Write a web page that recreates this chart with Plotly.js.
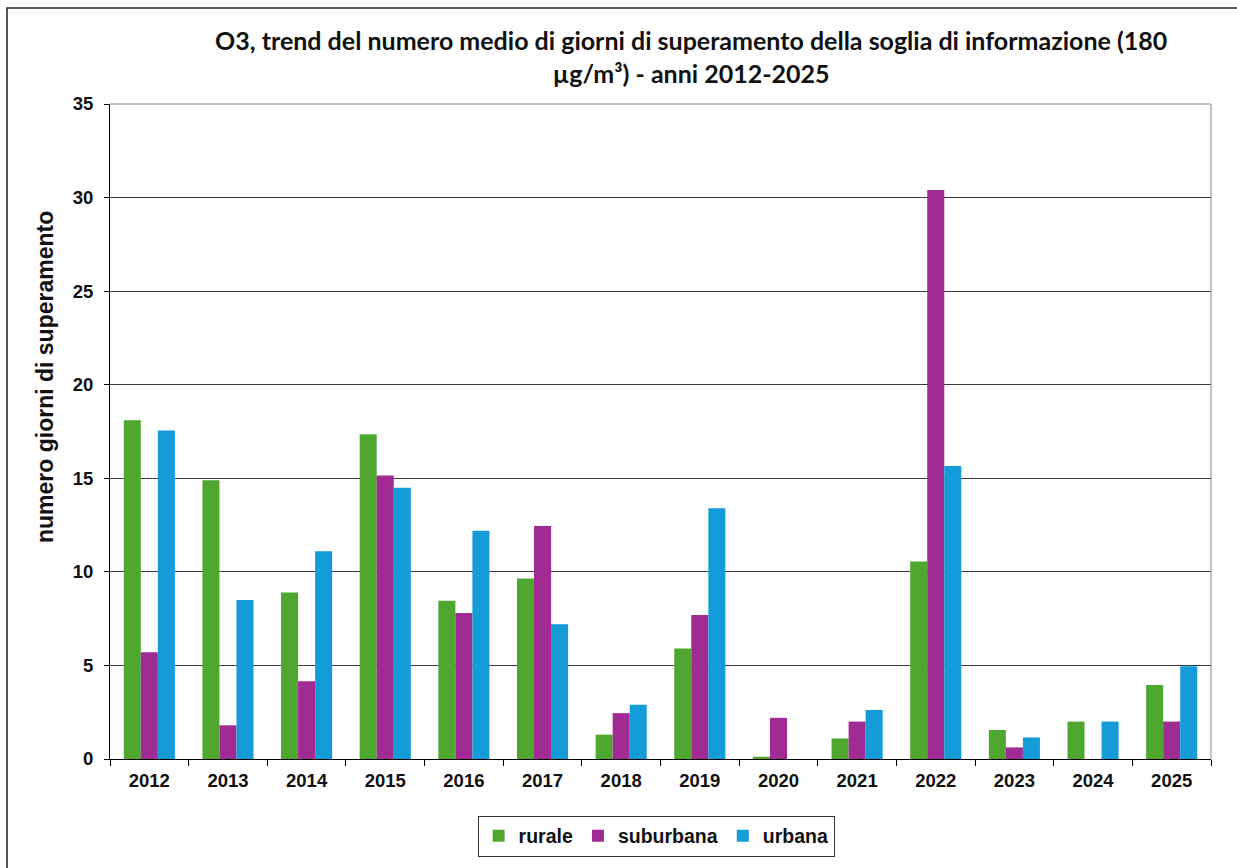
<!DOCTYPE html>
<html>
<head>
<meta charset="utf-8">
<script src="https://cdn.plot.ly/plotly-3.0.1.min.js"></script>
<style>
html,body{margin:0;padding:0;background:#fff;}
#chart{width:1237px;height:868px;}
</style>
</head>
<body>
<div id="chart"></div>
<script>
const years = ["2012","2013","2014","2015","2016","2017","2018","2019","2020","2021","2022","2023","2024","2025"];
const rurale    = [18.1, 14.9, 8.9, 17.35, 8.45, 9.65, 1.3, 5.9, 0.12, 1.1, 10.55, 1.55, 2.0, 3.95];
const suburbana = [5.7, 1.8, 4.15, 15.15, 7.8, 12.45, 2.45, 7.7, 2.2, 2.0, 30.4, 0.62, 0, 2.0];
const urbana    = [17.55, 8.5, 11.1, 14.5, 12.2, 7.2, 2.9, 13.4, 0, 2.62, 15.65, 1.15, 2.0, 4.95];

const titleText = "O3, trend del numero medio di giorni di superamento della soglia di informazione (180<br>µg/m³) - anni 2012-2025";
const yTitleText = "numero giorni di superamento";

const fontAx = {family: "Liberation Sans, Arial, sans-serif", size: 18.5, color: "#111", weight: "bold"};

const traces = [
  {type: "bar", name: "rurale", x: years, y: rurale, marker: {color: "#4FA72F"}},
  {type: "bar", name: "suburbana", x: years, y: suburbana, marker: {color: "#A02B93"}},
  {type: "bar", name: "urbana", x: years, y: urbana, marker: {color: "#139CD8"}}
];

const layout = {
  width: 1237, height: 868,
  margin: {l: 110, r: 26, t: 104, b: 109},
  paper_bgcolor: "#fff", plot_bgcolor: "#fff",
  barmode: "group", bargap: 0.35, bargroupgap: 0,
  xaxis: {
    type: "category",
    tickfont: fontAx,
    showline: true, linecolor: "#000", linewidth: 1,
    ticks: "outside", tickson: "boundaries", ticklen: 6, tickcolor: "#000",
    ticklabelstandoff: 5,
    showgrid: false, mirror: false, fixedrange: true
  },
  yaxis: {
    range: [0, 35], dtick: 5, tick0: 0,
    tickfont: fontAx,
    showline: true, linecolor: "#000", linewidth: 1,
    ticks: "outside", ticklen: 5, tickcolor: "#000",
    ticklabelstandoff: 7,
    showgrid: true, gridcolor: "#3a3a3a", gridwidth: 1,
    zeroline: false,
    fixedrange: true
  },
  legend: {
    orientation: "h", x: 0.496, xanchor: "center", y: -0.1176, yanchor: "middle",
    font: {family: "Liberation Sans, Arial, sans-serif", size: 19.5, color: "#111", weight: "bold"},
    bordercolor: "#333", borderwidth: 1, bgcolor: "#fff",
    itemwidth: 30, traceorder: "normal"
  },
  annotations: [
    {text: titleText, xref: "paper", yref: "paper", x: 0.5277, y: 1.0718, xanchor: "center", yanchor: "middle",
     showarrow: false, align: "center",
     font: {family: "Lato, Carlito, sans-serif", size: 25, color: "#111", weight: "bold"}},
    {text: yTitleText, xref: "paper", yref: "paper", x: (45-110)/1101, y: (759-377)/655, xanchor: "center", yanchor: "middle",
     textangle: -90, showarrow: false,
     font: {family: "Liberation Sans, Arial, sans-serif", size: 23, color: "#111", weight: "bold"}}
  ],
  shapes: [
    {type: "line", xref: "paper", yref: "paper", x0: 1, x1: 1, y0: 0, y1: 1, line: {color: "#888", width: 1}},
    {type: "line", xref: "paper", yref: "paper", x0: 0, x1: 1, y0: 1, y1: 1, line: {color: "#888", width: 1}},
    {type: "rect", xref: "paper", yref: "paper", x0: (7-110)/1101, x1: 1.2, y0: -0.5, y1: (759-8)/655, line: {color: "#222", width: 1.5}, fillcolor: "rgba(0,0,0,0)"}
  ],
  showlegend: true
};

Plotly.newPlot("chart", traces, layout, {displayModeBar: false, staticPlot: true});
</script>
</body>
</html>
